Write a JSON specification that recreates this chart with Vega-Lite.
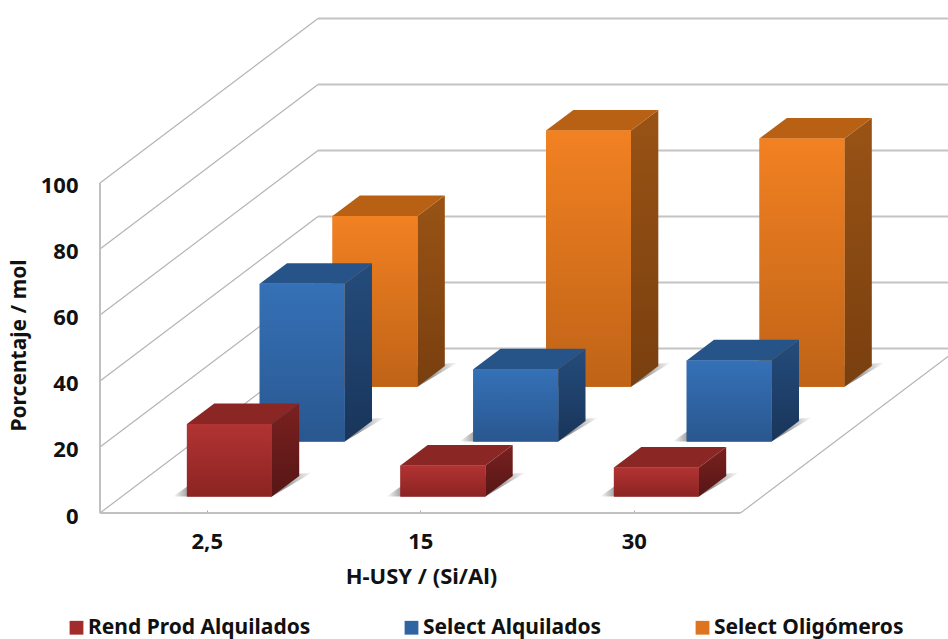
{
  "$schema": "https://vega.github.io/schema/vega-lite/v6.json",
  "description": "Pseudo-3D grouped bars: each bar value is projected onto a receding floor and drawn as front, side and top faces.",
  "autosize": "none",
  "width": 848,
  "height": 513,
  "padding": {"left": 100, "top": 0, "right": 0, "bottom": 126},
  "background": "white",
  "config": {
    "view": {"stroke": null},
    "font": "Noto Sans",
    "axis": {"labelFont": "Noto Sans", "titleFont": "Noto Sans", "labelFontWeight": "bold", "titleFontWeight": "bold", "labelColor": "#111", "titleColor": "#111"},
    "legend": {"labelFont": "Noto Sans", "labelFontWeight": "bold", "labelColor": "#111"}
  },
  "datasets": {
    "bars": [
      {"cat": 1, "serie": "Select Oligómeros", "value": 51.7},
      {"cat": 2, "serie": "Select Oligómeros", "value": 77.6},
      {"cat": 3, "serie": "Select Oligómeros", "value": 75.2},
      {"cat": 1, "serie": "Select Alquilados", "value": 47.8},
      {"cat": 2, "serie": "Select Alquilados", "value": 21.9},
      {"cat": 3, "serie": "Select Alquilados", "value": 24.6},
      {"cat": 1, "serie": "Rend Prod Alquilados", "value": 22},
      {"cat": 2, "serie": "Rend Prod Alquilados", "value": 9.4},
      {"cat": 3, "serie": "Rend Prod Alquilados", "value": 8.8}
    ],
    "levels": [
      {"level": 0}, {"level": 20}, {"level": 40}, {"level": 60}, {"level": 80}, {"level": 100}
    ]
  },
  "layer": [
    {
      "data": {"name": "levels"},
      "transform": [{"calculate": "datum.level + 49.85", "as": "back"}],
      "mark": {"type": "rule", "color": "#b4b4b4", "strokeWidth": 1.2},
      "encoding": {
        "x": {
          "datum": 0.5,
          "type": "quantitative",
          "scale": {"domain": [0.5, 4.472], "nice": false, "zero": false},
          "axis": {
            "values": [1, 2, 3],
            "labelExpr": "datum.value === 1 ? '2,5' : datum.value === 2 ? '15' : '30'",
            "title": "H-USY / (Si/Al)",
            "titleFontSize": 22,
            "titleX": 321,
            "titleY": 53,
            "titleAnchor": null,
            "labelFontSize": 22,
            "labelPadding": 21,
            "tickSize": -3,
            "tickColor": "#a8a8a8",
            "domain": false,
            "grid": false
          }
        },
        "x2": {"datum": 1.521},
        "y": {
          "field": "level",
          "type": "quantitative",
          "scale": {"domain": [0, 155.45], "nice": false, "zero": false},
          "axis": {
            "values": [0, 20, 40, 60, 80, 100],
            "title": "Porcentaje / mol",
            "titleFontSize": 21,
            "titleX": -71,
            "titleY": 345,
            "titleAnchor": null,
            "labelFontSize": 22,
            "labelPadding": 22,
            "labelOffset": 3,
            "ticks": false,
            "tickSize": 0,
            "domain": false,
            "grid": false
          }
        },
        "y2": {"field": "back"}
      }
    },
    {
      "data": {"name": "levels"},
      "transform": [{"calculate": "datum.level + 49.85", "as": "back"}],
      "mark": {"type": "rule", "color": "#c4c4c4", "strokeWidth": 2},
      "encoding": {
        "x": {"datum": 1.521, "type": "quantitative"},
        "x2": {"datum": 4.472},
        "y": {"field": "back", "type": "quantitative"}
      }
    },
    {
      "data": {"values": [{"edge": "left wall"}]},
      "mark": {"type": "rule", "color": "#c0c0c0", "strokeWidth": 2},
      "encoding": {
        "x": {"datum": 0.5, "type": "quantitative"},
        "y": {"datum": 0, "type": "quantitative"},
        "y2": {"datum": 100}
      }
    },
    {
      "data": {"values": [{"edge": "front floor"}]},
      "mark": {"type": "rule", "color": "#c0c0c0", "strokeWidth": 2},
      "encoding": {
        "x": {"datum": 0.5, "type": "quantitative"},
        "x2": {"datum": 3.5},
        "y": {"datum": 0, "type": "quantitative"}
      }
    },
    {
      "data": {"values": [{"edge": "right floor"}]},
      "mark": {"type": "rule", "color": "#b4b4b4", "strokeWidth": 1.2, "clip": true},
      "encoding": {
        "x": {"datum": 3.5, "type": "quantitative"},
        "x2": {"datum": 4.521},
        "y": {"datum": 0, "type": "quantitative"},
        "y2": {"datum": 49.85}
      }
    },
    {
      "data": {"name": "bars"},
      "transform": [
        {"calculate": "0.1 + 0.334 * indexof(['Rend Prod Alquilados', 'Select Alquilados', 'Select Oligómeros'], datum.serie)", "as": "d"},
        {"calculate": "datum.cat - 0.195 + datum.d * 1.021", "as": "x0"},
        {"calculate": "datum.d * 49.85", "as": "base"},
        {"calculate": "[datum.x0 - 0.065, datum.x0, datum.x0 + 0.398, datum.x0 + 0.587]", "as": "sx"},
        {"calculate": "[datum.base, datum.base, datum.base, datum.base + 7.3]", "as": "lo"},
        {"calculate": "[datum.base, datum.base + 3, datum.base + 6.2, datum.base + 7.3]", "as": "hi"},
        {"flatten": ["sx", "lo", "hi"]}
      ],
      "mark": {
        "type": "area",
        "color": {
          "gradient": "linear", "x1": 0, "y1": 0, "x2": 1, "y2": 0,
          "stops": [
            {"offset": 0, "color": "rgba(90,90,90,0)"},
            {"offset": 0.12, "color": "rgba(90,90,90,0.65)"},
            {"offset": 0.8, "color": "rgba(90,90,90,0.65)"},
            {"offset": 1, "color": "rgba(90,90,90,0)"}
          ]
        }
      },
      "encoding": {
        "x": {"field": "sx", "type": "quantitative"},
        "y": {"field": "lo", "type": "quantitative"},
        "y2": {"field": "hi"},
        "detail": [{"field": "cat"}, {"field": "serie"}]
      }
    },
    {
      "data": {"name": "bars"},
      "transform": [
        {"calculate": "0.1 + 0.334 * indexof(['Rend Prod Alquilados', 'Select Alquilados', 'Select Oligómeros'], datum.serie)", "as": "d"},
        {"calculate": "datum.cat - 0.195 + datum.d * 1.021", "as": "x0"},
        {"calculate": "datum.x0 + 0.398", "as": "x1"},
        {"calculate": "datum.d * 49.85", "as": "base"},
        {"calculate": "datum.base + datum.value", "as": "top"}
      ],
      "mark": {"type": "rect"},
      "encoding": {
        "x": {"field": "x0", "type": "quantitative"},
        "x2": {"field": "x1"},
        "y": {"field": "base", "type": "quantitative"},
        "y2": {"field": "top"},
        "color": {
          "field": "serie",
          "type": "nominal",
          "scale": {
            "domain": ["Rend Prod Alquilados", "Select Alquilados", "Select Oligómeros"],
            "range": ["#a12c2b", "#2f64a3", "#dd7420"]
          },
          "legend": {
            "orient": "none",
            "legendX": -34,
            "legendY": 617,
            "title": null,
            "direction": "horizontal",
            "columns": 3,
            "columnPadding": 90,
            "symbolType": "square",
            "symbolSize": 190,
            "symbolStrokeWidth": 0,
            "labelFontSize": 21,
            "labelOffset": 1,
            "labelLimit": 400
          }
        }
      }
    },
    {
      "data": {"name": "bars"},
      "transform": [
        {"calculate": "0.1 + 0.334 * indexof(['Rend Prod Alquilados', 'Select Alquilados', 'Select Oligómeros'], datum.serie)", "as": "d"},
        {"calculate": "datum.cat - 0.195 + datum.d * 1.021", "as": "x0"},
        {"calculate": "datum.d * 49.85", "as": "base"},
        {"calculate": "datum.base + datum.value", "as": "top"},
        {"calculate": "['side', 'top', 'front']", "as": "face"},
        {"flatten": ["face"]},
        {"calculate": "datum.face === 'front' ? [0, 1] : datum.face === 'side' ? [1, 1] : [0, 0, 1, 1]", "as": "a"},
        {"calculate": "datum.face === 'front' ? [0, 0] : datum.face === 'side' ? [0, 1] : [0, 1, 0, 1]", "as": "b"},
        {"calculate": "datum.face === 'front' ? [datum.base, datum.base] : datum.face === 'side' ? [datum.base, datum.base + 6.23] : [datum.top, datum.top, datum.top, datum.top + 6.23]", "as": "lo"},
        {"calculate": "datum.face === 'front' ? [datum.top, datum.top] : datum.face === 'side' ? [datum.top, datum.top + 6.23] : [datum.top, datum.top + 6.23, datum.top + 6.23, datum.top + 6.23]", "as": "hi"},
        {"flatten": ["a", "b", "lo", "hi"]},
        {"calculate": "datum.x0 + 0.398 * datum.a + 0.128 * datum.b", "as": "px"},
        {"calculate": "datum.serie + ' ' + datum.face", "as": "faceKey"}
      ],
      "mark": {"type": "area"},
      "encoding": {
        "x": {"field": "px", "type": "quantitative"},
        "y": {"field": "lo", "type": "quantitative"},
        "y2": {"field": "hi"},
        "detail": [{"field": "cat"}, {"field": "faceKey"}],
        "color": {
          "condition": [
            {"test": "datum.faceKey === 'Rend Prod Alquilados front'", "value": {"gradient": "linear", "x1": 0, "y1": 0, "x2": 0, "y2": 1, "stops": [{"offset": 0, "color": "#b23333"}, {"offset": 1, "color": "#8b2422"}]}},
            {"test": "datum.faceKey === 'Select Alquilados front'", "value": {"gradient": "linear", "x1": 0, "y1": 0, "x2": 0, "y2": 1, "stops": [{"offset": 0, "color": "#3571b7"}, {"offset": 1, "color": "#29578f"}]}},
            {"test": "datum.faceKey === 'Select Oligómeros front'", "value": {"gradient": "linear", "x1": 0, "y1": 0, "x2": 0, "y2": 1, "stops": [{"offset": 0, "color": "#f28122"}, {"offset": 1, "color": "#bf6317"}]}},
            {"test": "datum.faceKey === 'Rend Prod Alquilados side'", "value": {"gradient": "linear", "x1": 0, "y1": 0, "x2": 0, "y2": 1, "stops": [{"offset": 0, "color": "#7a2120"}, {"offset": 1, "color": "#561615"}]}},
            {"test": "datum.faceKey === 'Select Alquilados side'", "value": {"gradient": "linear", "x1": 0, "y1": 0, "x2": 0, "y2": 1, "stops": [{"offset": 0, "color": "#244c7c"}, {"offset": 1, "color": "#19355a"}]}},
            {"test": "datum.faceKey === 'Select Oligómeros side'", "value": {"gradient": "linear", "x1": 0, "y1": 0, "x2": 0, "y2": 1, "stops": [{"offset": 0, "color": "#995315"}, {"offset": 1, "color": "#793f0f"}]}},
            {"test": "datum.faceKey === 'Rend Prod Alquilados top'", "value": "#8a2623"},
            {"test": "datum.faceKey === 'Select Alquilados top'", "value": "#265488"}
          ],
          "value": "#b86115"
        }
      }
    }
  ]
}
